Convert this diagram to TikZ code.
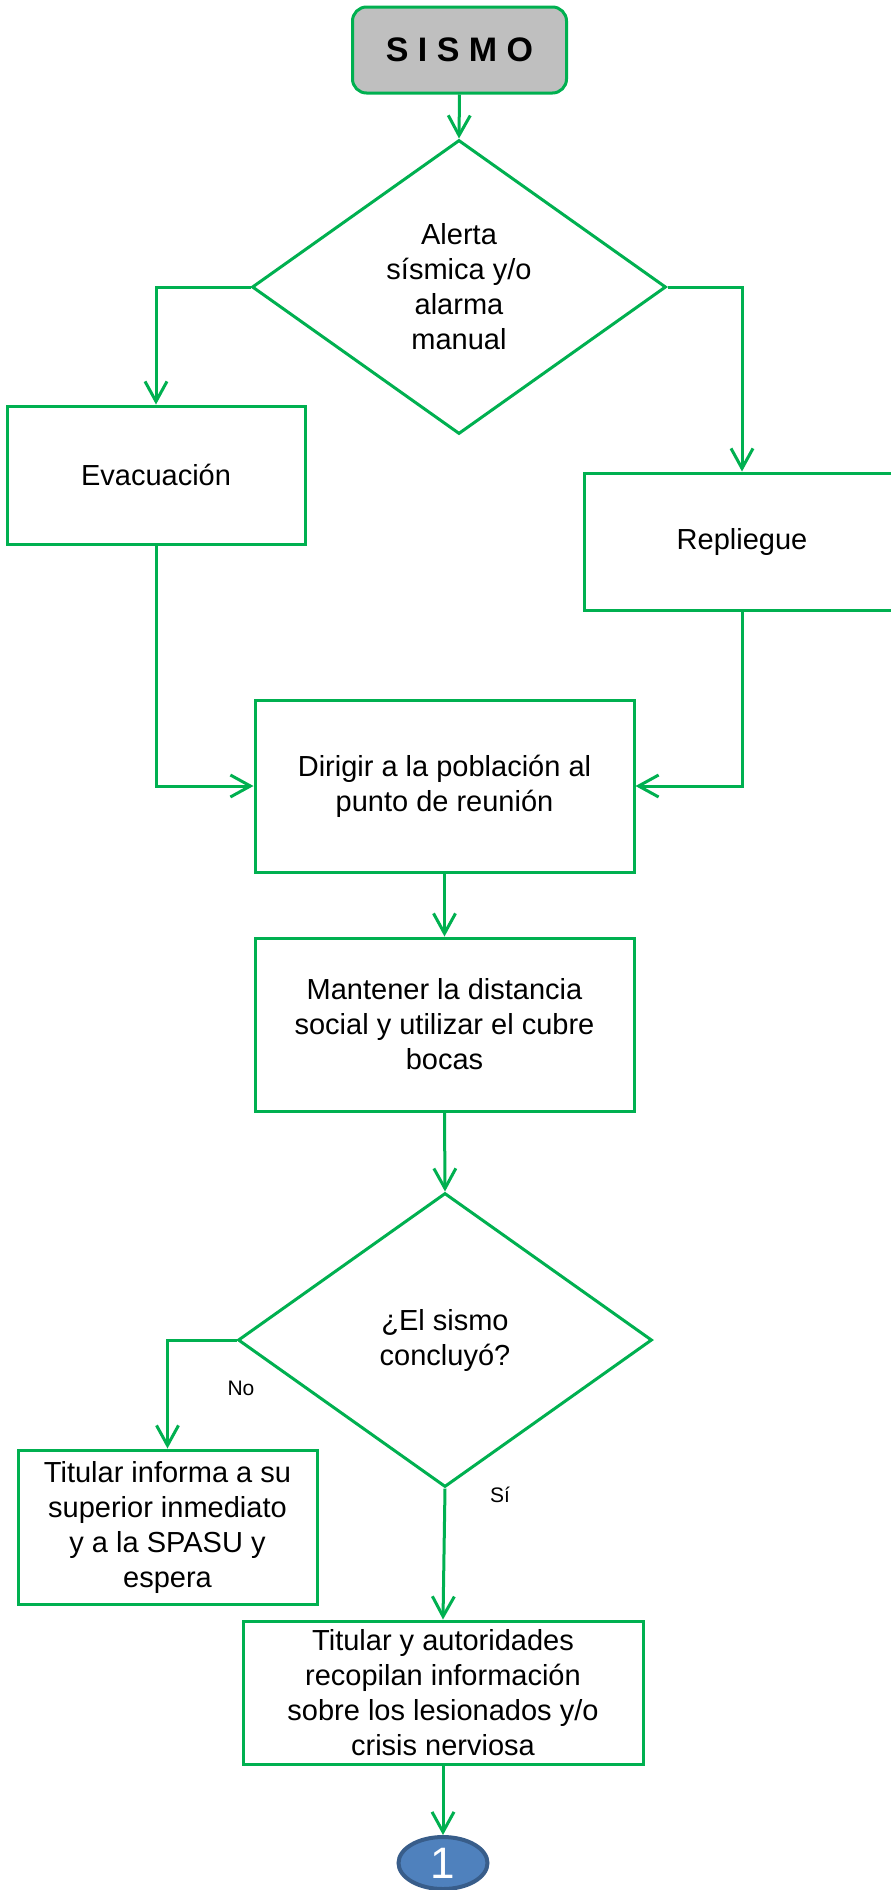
\documentclass[tikz,border=0pt]{standalone}
\usepackage{fontspec}
\setmainfont{Liberation Sans}
\usetikzlibrary{arrows.meta, shapes.geometric}
\definecolor{flowgreen}{HTML}{00B050}
\definecolor{startgray}{HTML}{BFBFBF}
\definecolor{connfill}{HTML}{4F81BD}
\definecolor{connedge}{HTML}{385D8A}

\begin{document}
\begin{tikzpicture}[
x=1pt, y=-1pt,
line width=3pt,
every node/.style={font=\fontsize{29}{35}\selectfont, align=center},
startbox/.style={
rectangle,
rounded corners=14pt,
draw=flowgreen,
fill=startgray,
minimum width=214pt,
minimum height=86pt,
inner sep=0pt,
},
procbox/.style={
rectangle,
draw=flowgreen,
inner sep=0pt,
},
decision/.style={
diamond,
draw=flowgreen,
minimum width=414pt,
minimum height=294pt,
inner sep=0pt,
},
flowarrow/.style={draw=flowgreen, -{Straight Barb[length=20pt, width=22pt]}},
answer/.style={font=\fontsize{21}{25}\selectfont},
]
\useasboundingbox (0,0) rectangle (891,1890);

% start
\node [startbox, font=\fontsize{34}{40}\bfseries] at (459.5,50) (sismo) {S I S M O};

% first decision and its branches
\node [decision] at (459,287) (alerta) {Alerta\\sísmica y/o\\alarma\\manual};
\node [procbox, minimum width=298pt, minimum height=138pt] at (156,475) (evac) {Evacuación};
\node [procbox, minimum width=316pt, minimum height=137pt] at (742,541.5) (repl) {Repliegue};

% main steps
\node [procbox, minimum width=379pt, minimum height=172pt] at (444.5,786) (dirigir)
{Dirigir a la población al\\punto de reunión};
\node [procbox, minimum width=379pt, minimum height=173pt] at (444.5,1024.5) (mantener)
{Mantener la distancia\\social y utilizar el cubre\\bocas};

% second decision
\node [decision] at (445,1340) (concluyo) {¿El sismo\\concluyó?};
\node [procbox, minimum width=299pt, minimum height=154pt] at (167.5,1527) (titular)
{Titular informa a su\\superior inmediato\\y a la SPASU y\\espera};
\node [procbox, minimum width=400pt, minimum height=143pt] at (443,1692.5) (recopilan)
{Titular y autoridades\\recopilan información\\sobre los lesionados y/o\\crisis nerviosa};

% off-page connector
\node [ellipse, draw=connedge, fill=connfill, text=white, inner sep=0pt, line width=4pt,
minimum width=89pt, minimum height=52pt, font=\fontsize{44}{44}\selectfont]
at (443,1863) (conector) {1};

% answers
\node [answer] at (241,1388) (no) {No};
\node [answer] at (500,1495) (si) {Sí};

% connectors
\draw [flowarrow] (sismo.south) -- (alerta.north);
\draw [flowarrow] (alerta.west) -| (evac.north);
\draw [flowarrow] (alerta.east) -| (repl.north);
\draw [flowarrow] (evac.south) |- (dirigir.west);
\draw [flowarrow] (repl.south) |- (dirigir.east);
\draw [flowarrow] (dirigir.south) -- (mantener.north);
\draw [flowarrow] (mantener.south) -- (concluyo.north);
\draw [flowarrow] (concluyo.west) -| (titular.north);
\draw [flowarrow] (concluyo.south) -- (recopilan.north);
\draw [flowarrow] (recopilan.south) -- (conector.north);

\end{tikzpicture}
\end{document}
